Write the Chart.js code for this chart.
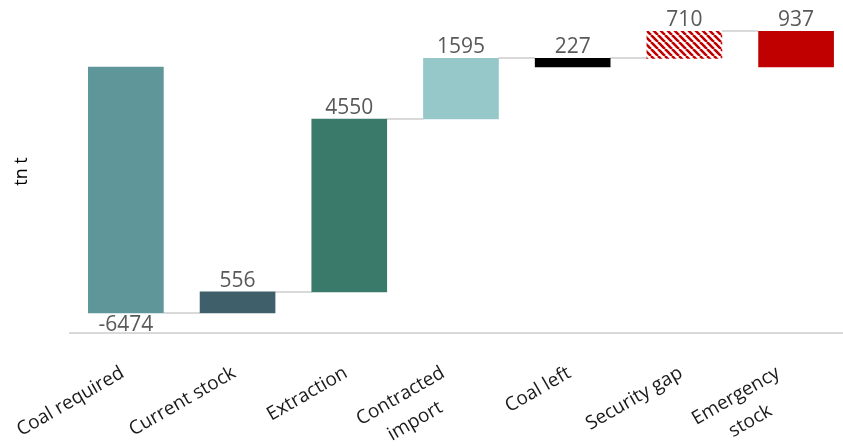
<!DOCTYPE html>
<html>
<head>
<meta charset="utf-8">
<script src="https://cdn.jsdelivr.net/npm/chart.js@4/dist/chart.umd.min.js"></script>
<style>
  html, body { margin: 0; padding: 0; background: #ffffff; overflow: hidden; }
  #wrap { width: 843px; height: 448px; position: relative; }
</style>
</head>
<body>
<div id="wrap"><canvas id="chart"></canvas></div>
<script>
// Coal balance, thousand tonnes
const categories = ['Coal required', 'Current stock', 'Extraction', ['Contracted', 'import'], 'Coal left', 'Security gap', ['Emergency', 'stock']];
const values = [-6474, 556, 4550, 1595, 227, 710, 937];
const colors = ['#5f9699', '#3f5f6b', '#3a7a6a', '#96c8ca', '#000000', 'hatch', '#c00000'];

// Floating bar spans of the waterfall
const required = -values[0];
const spans = [[0, required]];
let running = 0;
for (let i = 1; i <= 3; i++) { spans.push([running, running + values[i]]); running += values[i]; }
spans.push([required, required + values[4]]);          // coal left
spans.push([running, running + values[5]]);            // security gap
spans.push([required, required + values[6]]);          // emergency stock
// Connector level between bar i and bar i+1
const connectors = [spans[0][0], spans[1][1], spans[2][1], spans[3][1], spans[4][1], spans[5][1]];

// Red/white diagonal hatch
function makeHatch() {
  const s = 7;
  const c = document.createElement('canvas');
  c.width = s; c.height = s;
  const g = c.getContext('2d');
  g.fillStyle = '#ffffff'; g.fillRect(0, 0, s, s);
  g.strokeStyle = '#c00000'; g.lineWidth = 2.6;
  g.beginPath();
  for (let k = -1; k <= 1; k++) { g.moveTo(k * s, 0); g.lineTo(k * s + s, s); }
  g.stroke();
  return document.getElementById('chart').getContext('2d').createPattern(c, 'repeat');
}
const hatch = makeHatch();

const waterfallPlugin = {
  id: 'waterfallExtras',
  beforeDatasetsDraw(chart) {
    const meta = chart.getDatasetMeta(0);
    const y = chart.scales.y;
    const ctx = chart.ctx;
    ctx.save();
    ctx.strokeStyle = '#d9d9d9';
    ctx.lineWidth = 2;
    connectors.forEach((lvl, i) => {
      const a = meta.data[i], b = meta.data[i + 1];
      const py = Math.round(y.getPixelForValue(lvl));
      ctx.beginPath();
      ctx.moveTo(a.x + a.width / 2, py);
      ctx.lineTo(b.x - b.width / 2, py);
      ctx.stroke();
    });
    ctx.restore();
  },
  afterDatasetsDraw(chart) {
    const meta = chart.getDatasetMeta(0);
    const y = chart.scales.y;
    const ctx = chart.ctx;
    ctx.save();
    ctx.fillStyle = '#595959';
    ctx.font = '21px "Open Sans"';
    ctx.textAlign = 'center';
    ctx.textBaseline = 'alphabetic';
    values.forEach((v, i) => {
      const el = meta.data[i];
      if (v < 0) {
        const py = y.getPixelForValue(Math.min(...spans[i]));
        ctx.fillText(String(v), el.x, py + 18);
      } else {
        const py = y.getPixelForValue(Math.max(...spans[i]));
        ctx.fillText(String(v), el.x, py - 5);
      }
    });
    ctx.restore();
  },
  afterDraw(chart) {
    // Rotated category labels, lines centred within each block
    const xs = chart.scales.x;
    const ctx = chart.ctx;
    const rot = Math.PI / 6;
    const lh = 29;
    const top = 359;
    ctx.save();
    ctx.fillStyle = '#1a1a1a';
    ctx.font = '19px "Open Sans"';
    ctx.textBaseline = 'middle';
    ctx.textAlign = 'center';
    categories.forEach((lab, i) => {
      const lines = Array.isArray(lab) ? lab : [lab];
      const H = lines.length * lh;
      const tx = xs.getPixelForValue(i);
      const rx = tx + 4 - H / 4;
      const ry = top + H * Math.cos(rot) / 2;
      const W = Math.max(...lines.map(l => ctx.measureText(l).width));
      ctx.save();
      ctx.translate(rx, ry);
      ctx.rotate(-rot);
      lines.forEach((l, k) => {
        ctx.fillText(l, -W / 2, -H / 2 + lh * (k + 0.5));
      });
      ctx.restore();
    });
    ctx.restore();
  }
};

new Chart(document.getElementById('chart'), {
  type: 'bar',
  data: {
    datasets: [{
      data: spans.map((s, i) => ({ x: i, y: s })),
      backgroundColor: colors.map(c => c === 'hatch' ? hatch : c),
      borderWidth: 0,
      barThickness: 75
    }]
  },
  options: {
    responsive: true,
    maintainAspectRatio: false,
    animation: false,
    layout: { padding: { top: 10, right: 0, bottom: 0, left: 0 } },
    plugins: { legend: { display: false }, tooltip: { enabled: false } },
    scales: {
      x: {
        type: 'linear',
        offset: false,
        min: -0.5,
        max: 6.42,
        afterFit(scale) { scale.height = 115; },
        grid: { display: false, drawTicks: false, offset: false },
        border: { display: true, color: '#d9d9d9', width: 2 },
        ticks: { display: false }
      },
      y: {
        min: -526,
        max: 7974,
        afterFit(scale) { scale.width = 70; },
        grid: { display: false },
        border: { display: false },
        ticks: { display: false },
        title: {
          display: true,
          text: 'tn t',
          color: '#000000',
          font: { family: '"Open Sans"', size: 18 },
          padding: { top: 11, bottom: 0 }
        }
      }
    }
  },
  plugins: [waterfallPlugin]
});
</script>
</body>
</html>
